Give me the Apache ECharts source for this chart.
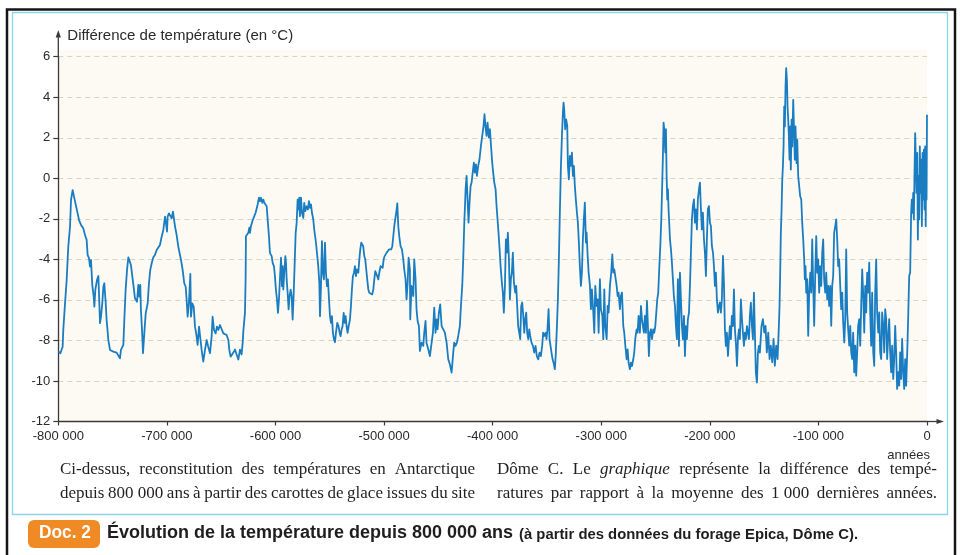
<!DOCTYPE html>
<html><head><meta charset="utf-8">
<script src="https://cdn.jsdelivr.net/npm/echarts@6/dist/echarts.min.js"></script>
<style>html,body{margin:0;padding:0;background:#fff;}#chart{width:962px;height:555px;}</style>
</head><body><div id="chart"></div>
<script>
// ---- Data: [age in ka (thousands of years, negative = before present), temperature difference °C]
const cycle800to638 = [[-800.0,-8.55],[-798.1,-8.63],[-796.9,-8.72],[-796.0,-8.31],[-795.4,-7.48],[-793.8,-6.17],[-792.3,-5.02],[-790.8,-3.37],[-789.2,-2.38],[-788.3,-1.07],[-786.8,-0.58],[-786.2,-0.49],[-785.2,-0.99],[-783.7,-1.07],[-782.2,-1.73],[-780.9,-2.06],[-779.1,-2.30],[-777.0,-2.47],[-775.4,-2.80],[-773.9,-3.04],[-773.0,-3.78],[-771.7,-3.95],[-770.8,-4.36],[-769.9,-4.03],[-768.7,-5.26],[-767.4,-5.84],[-766.8,-6.33],[-765.9,-5.51],[-764.4,-5.02],[-763.1,-4.82],[-762.2,-6.17],[-761.6,-7.15],[-760.7,-6.83],[-759.5,-6.17],[-758.5,-5.35],[-757.6,-5.18],[-757.0,-5.67],[-756.4,-6.09],[-755.5,-6.99],[-753.9,-7.98],[-752.4,-8.47],[-749.3,-8.55],[-746.3,-8.60],[-744.7,-8.55],[-743.2,-8.88],[-742.3,-8.47],[-740.1,-8.22],[-739.2,-6.99],[-738.0,-5.51],[-736.7,-4.52],[-735.5,-3.90],[-734.0,-3.87],[-733.1,-4.28],[-731.8,-4.85],[-730.3,-5.51],[-729.4,-5.92],[-727.5,-6.09],[-726.3,-5.26],[-725.4,-5.84],[-724.5,-5.26],[-723.9,-6.50],[-722.9,-7.48],[-722.0,-8.63],[-720.8,-7.65],[-719.5,-6.66],[-717.7,-6.17],[-716.5,-5.18],[-715.3,-4.52],[-714.0,-4.19],[-712.5,-3.90],[-711.0,-3.78],[-709.4,-3.54],[-707.9,-3.50],[-706.4,-3.29],[-704.8,-2.88],[-703.3,-2.55],[-701.7,-1.89],[-700.8,-2.22],[-699.9,-2.63],[-699.3,-1.89],[-698.1,-1.73],[-696.5,-1.81],[-695.6,-1.97],[-694.4,-1.64],[-693.2,-1.56],[-692.5,-2.38],[-691.0,-2.80],[-689.5,-3.37],[-687.9,-3.29],[-687.0,-4.03],[-685.5,-4.52],[-684.0,-5.18],[-682.7,-5.35],[-681.8,-6.00],[-680.9,-6.83],[-679.7,-6.17],[-678.4,-4.72],[-677.8,-6.83],[-676.6,-6.17],[-675.3,-6.33],[-674.1,-7.32],[-672.6,-7.81],[-671.7,-8.22],[-670.4,-7.32],[-669.2,-7.32],[-668.0,-8.47],[-666.5,-9.05],[-664.9,-8.47],[-663.4,-7.98],[-661.9,-8.31],[-660.3,-8.63],[-658.8,-7.81],[-657.9,-6.83],[-656.6,-7.48],[-655.1,-7.65],[-653.9,-7.32],[-652.6,-7.48],[-651.1,-7.24],[-649.6,-7.32],[-648.0,-7.65],[-646.5,-7.73],[-645.0,-7.73],[-643.4,-7.98],[-642.5,-8.47],[-641.3,-8.80],[-639.8,-8.80],[-638.2,-8.55]];
const cycle637to476 = [[-637.3,-8.45],[-635.8,-8.69],[-634.2,-8.94],[-632.7,-8.45],[-631.2,-8.69],[-630.2,-8.12],[-629.6,-7.54],[-628.7,-7.46],[-628.1,-6.64],[-627.5,-4.99],[-627.2,-2.86],[-625.9,-2.77],[-625.0,-2.69],[-624.1,-2.44],[-623.5,-2.69],[-622.6,-2.36],[-621.3,-2.12],[-620.4,-2.20],[-619.5,-1.87],[-618.3,-1.70],[-617.3,-1.79],[-616.4,-1.29],[-615.2,-0.96],[-614.3,-1.13],[-613.4,-0.96],[-612.1,-1.21],[-611.2,-1.05],[-610.3,-1.21],[-609.1,-1.13],[-608.1,-1.38],[-607.2,-2.03],[-606.0,-2.86],[-605.1,-3.68],[-603.5,-3.84],[-602.6,-4.17],[-601.4,-4.34],[-600.5,-4.83],[-599.6,-5.49],[-598.6,-5.98],[-597.7,-6.64],[-596.8,-5.98],[-595.9,-4.99],[-594.9,-3.92],[-594.0,-5.32],[-593.4,-4.34],[-592.8,-5.49],[-591.9,-4.66],[-590.9,-3.84],[-590.3,-4.17],[-589.7,-4.99],[-588.8,-5.65],[-587.9,-6.47],[-587.0,-5.82],[-586.0,-5.49],[-585.1,-5.82],[-584.2,-6.97],[-583.3,-5.82],[-582.4,-4.34],[-581.4,-2.69],[-580.5,-2.20],[-579.6,-1.05],[-578.7,-1.54],[-578.1,-0.96],[-577.5,-1.87],[-576.5,-0.96],[-575.6,-1.70],[-574.4,-1.95],[-573.5,-1.21],[-572.5,-1.62],[-571.3,-1.38],[-570.1,-1.54],[-569.2,-1.13],[-568.2,-1.46],[-567.3,-1.29],[-566.4,-1.70],[-565.2,-2.03],[-564.3,-2.53],[-562.7,-3.18],[-561.5,-3.84],[-560.6,-4.34],[-559.6,-5.16],[-559.0,-6.80],[-558.1,-5.32],[-557.2,-3.10],[-556.3,-4.66],[-555.4,-4.99],[-554.4,-3.18],[-553.5,-4.66],[-552.6,-5.32],[-551.7,-4.99],[-550.7,-5.98],[-549.8,-6.80],[-548.9,-7.13],[-548.0,-6.80],[-547.1,-7.63],[-546.1,-7.95],[-545.2,-8.09],[-544.3,-7.63],[-543.1,-7.13],[-541.9,-7.30],[-540.9,-7.63],[-540.0,-7.79],[-539.1,-7.46],[-538.2,-7.30],[-537.2,-6.64],[-536.3,-7.13],[-535.4,-6.80],[-534.5,-7.30],[-533.6,-7.63],[-532.6,-7.30],[-531.4,-6.97],[-530.5,-6.31],[-529.6,-5.49],[-528.7,-4.83],[-527.7,-4.66],[-526.8,-4.34],[-525.9,-4.83],[-525.0,-4.50],[-523.7,-4.66],[-522.8,-4.01],[-521.9,-3.51],[-521.0,-3.18],[-520.1,-3.10],[-519.2,-3.35],[-518.2,-3.84],[-517.3,-4.01],[-516.4,-4.50],[-515.5,-4.99],[-514.5,-5.49],[-513.6,-5.65],[-512.4,-5.73],[-510.9,-5.73],[-509.9,-5.49],[-509.0,-4.99],[-508.1,-4.58],[-507.2,-4.50],[-506.3,-4.83],[-505.3,-4.99],[-504.4,-4.66],[-503.2,-4.34],[-502.3,-4.25],[-501.3,-4.42],[-500.4,-4.01],[-499.5,-3.84],[-498.6,-3.76],[-497.7,-3.68],[-496.7,-3.60],[-495.5,-3.51],[-494.6,-3.43],[-493.4,-3.51],[-492.4,-3.35],[-491.5,-2.86],[-490.6,-2.36],[-489.7,-2.03],[-488.8,-1.70],[-487.8,-1.24],[-486.9,-2.36],[-486.0,-2.86],[-484.8,-3.35],[-483.5,-3.51],[-482.3,-4.01],[-481.4,-4.50],[-480.2,-4.99],[-479.3,-5.98],[-478.3,-5.16],[-477.4,-3.92],[-476.2,-4.50]];
const cycle476to315 = [[-475.9,-6.96],[-474.7,-5.31],[-473.1,-5.81],[-472.2,-4.00],[-471.0,-4.98],[-470.1,-6.46],[-469.1,-7.04],[-467.9,-7.29],[-467.0,-8.52],[-465.5,-8.11],[-463.9,-8.27],[-463.0,-7.62],[-461.8,-7.04],[-460.9,-8.11],[-459.3,-8.44],[-457.8,-8.77],[-456.2,-8.85],[-455.0,-7.62],[-453.8,-6.38],[-452.6,-7.62],[-451.6,-6.96],[-450.7,-7.45],[-449.5,-6.63],[-448.3,-6.22],[-447.0,-7.29],[-445.5,-7.45],[-444.0,-7.62],[-442.4,-8.11],[-440.9,-8.93],[-439.4,-9.18],[-437.8,-9.59],[-436.3,-8.60],[-435.4,-8.11],[-434.2,-8.27],[-432.9,-8.11],[-431.7,-7.78],[-430.2,-7.29],[-429.2,-6.30],[-428.0,-5.31],[-427.1,-4.00],[-426.2,-2.35],[-424.9,-0.54],[-424.0,0.12],[-423.1,-1.04],[-422.2,-2.19],[-421.3,-1.20],[-420.3,-0.38],[-419.4,-0.21],[-418.2,0.36],[-417.3,0.77],[-416.4,0.28],[-415.4,0.69],[-414.5,0.12],[-413.3,0.61],[-412.1,0.94],[-410.8,1.60],[-409.6,2.09],[-408.4,2.58],[-407.5,3.16],[-406.5,2.50],[-405.6,2.09],[-404.7,2.75],[-403.5,2.01],[-402.5,2.42],[-401.6,1.68],[-400.4,0.77],[-399.5,0.28],[-398.5,-0.21],[-397.3,-0.54],[-396.4,-1.37],[-395.5,-2.02],[-394.6,-2.68],[-393.6,-3.50],[-392.7,-4.33],[-391.5,-5.15],[-390.6,-5.64],[-389.7,-6.63],[-388.7,-5.31],[-387.8,-3.01],[-386.9,-3.67],[-386.0,-2.68],[-385.0,-4.00],[-384.1,-5.97],[-383.2,-4.98],[-382.3,-4.65],[-381.4,-3.67],[-380.4,-5.15],[-379.2,-5.64],[-378.3,-5.31],[-377.4,-6.30],[-376.5,-7.29],[-375.5,-7.62],[-374.6,-7.94],[-373.7,-6.30],[-372.8,-6.13],[-371.8,-6.79],[-370.9,-7.62],[-370.0,-6.96],[-369.1,-6.63],[-368.2,-7.62],[-367.2,-7.94],[-366.3,-7.45],[-365.4,-7.78],[-364.2,-8.11],[-362.9,-8.27],[-361.7,-8.60],[-360.5,-8.27],[-359.3,-8.77],[-358.0,-8.93],[-356.8,-8.60],[-355.6,-8.77],[-354.4,-8.27],[-353.5,-7.62],[-352.5,-7.78],[-351.3,-7.62],[-350.4,-7.94],[-349.5,-7.45],[-348.5,-6.46],[-347.6,-7.94],[-346.7,-8.27],[-345.8,-8.60],[-344.8,-8.93],[-343.9,-9.10],[-342.7,-9.42],[-341.8,-8.60],[-340.8,-7.29],[-339.9,-5.97],[-339.0,-4.00],[-338.1,-1.69],[-337.2,0.44],[-336.2,2.09],[-335.3,3.24],[-334.7,3.73],[-334.1,3.40],[-333.2,2.42],[-332.3,2.91],[-331.3,2.58],[-330.7,0.61],[-329.8,-0.05],[-328.9,1.10],[-328.0,0.61],[-327.0,1.27],[-326.1,0.12],[-325.2,0.61],[-324.3,-0.38],[-323.4,-1.04],[-322.4,-1.69],[-321.5,-2.19],[-320.6,-3.17],[-319.7,-4.33],[-318.7,-5.31],[-317.8,-4.65],[-316.9,-3.01],[-316.0,-2.02],[-315.1,-1.20]];
const cycle314to154 = [[-314.1,-3.17],[-313.5,-2.68],[-312.5,-3.83],[-311.6,-4.65],[-310.4,-5.31],[-309.5,-6.46],[-308.6,-5.48],[-307.3,-6.63],[-306.4,-7.62],[-305.5,-5.31],[-304.3,-6.30],[-303.3,-5.97],[-302.4,-7.62],[-301.2,-4.98],[-300.3,-6.46],[-299.0,-6.79],[-298.1,-7.94],[-297.2,-5.48],[-296.3,-7.29],[-295.0,-7.94],[-294.1,-6.30],[-293.2,-6.63],[-292.0,-5.31],[-290.8,-4.65],[-289.8,-3.75],[-288.9,-4.65],[-288.0,-4.49],[-287.1,-4.82],[-285.8,-5.31],[-284.9,-5.81],[-284.0,-5.64],[-282.8,-6.46],[-281.9,-5.81],[-280.9,-5.64],[-279.7,-7.29],[-278.8,-7.62],[-277.8,-8.27],[-276.6,-8.93],[-275.7,-8.44],[-274.8,-9.10],[-273.6,-9.42],[-272.6,-9.10],[-271.7,-9.26],[-270.5,-8.93],[-269.6,-8.60],[-268.7,-7.94],[-267.4,-7.45],[-266.5,-7.62],[-265.6,-6.79],[-264.4,-7.62],[-263.4,-6.30],[-262.5,-6.96],[-261.6,-7.29],[-260.7,-7.62],[-259.8,-6.79],[-258.8,-7.62],[-257.9,-6.05],[-257.0,-7.29],[-256.1,-8.77],[-255.2,-7.62],[-254.2,-7.45],[-253.3,-7.94],[-252.1,-7.45],[-251.2,-7.62],[-250.2,-7.29],[-249.3,-6.63],[-248.4,-5.97],[-247.5,-5.64],[-246.6,-4.49],[-245.6,-3.34],[-244.7,-2.02],[-243.8,-0.21],[-243.2,1.10],[-242.6,2.75],[-242.0,2.42],[-241.0,1.27],[-240.4,2.42],[-239.8,0.12],[-239.2,-1.04],[-238.6,-0.54],[-238.0,-1.53],[-237.4,-2.19],[-236.7,-3.01],[-235.8,-3.50],[-234.9,-4.16],[-234.0,-4.98],[-233.1,-5.81],[-232.1,-6.30],[-231.2,-7.29],[-230.3,-7.94],[-229.4,-4.98],[-228.4,-8.27],[-227.5,-4.65],[-226.6,-5.97],[-225.7,-7.29],[-224.8,-7.94],[-223.8,-6.79],[-222.9,-8.77],[-222.0,-7.29],[-221.1,-7.94],[-220.2,-6.96],[-219.2,-6.63],[-218.3,-5.31],[-217.4,-3.67],[-216.5,-2.02],[-215.6,-1.37],[-214.6,-1.04],[-213.7,-2.19],[-212.8,-1.53],[-211.9,-2.52],[-211.0,-1.04],[-210.0,-0.54],[-209.1,-0.21],[-208.2,-1.53],[-207.3,-2.52],[-206.4,-1.69],[-205.4,-3.01],[-204.5,-3.67],[-203.6,-4.82],[-202.7,-3.01],[-201.8,-1.53],[-200.8,-1.37],[-199.9,-2.19],[-199.0,-2.35],[-198.1,-3.34],[-197.1,-3.67],[-196.2,-4.33],[-195.3,-5.31],[-194.4,-4.65],[-193.5,-5.97],[-192.5,-6.63],[-191.6,-6.30],[-190.7,-6.13],[-189.8,-6.63],[-188.9,-5.97],[-187.9,-3.83],[-187.0,-5.15],[-186.1,-7.45],[-185.2,-8.27],[-184.3,-7.62],[-183.3,-8.77],[-182.4,-7.94],[-181.5,-7.29],[-180.6,-7.94],[-179.7,-6.79],[-178.7,-7.29],[-177.8,-5.48],[-176.9,-7.45],[-176.0,-8.11],[-175.0,-9.26],[-174.1,-7.94],[-173.2,-7.45],[-172.3,-7.94],[-171.4,-5.97],[-170.4,-6.96],[-169.5,-7.62],[-168.6,-8.27],[-167.7,-7.62],[-166.8,-7.94],[-165.8,-7.29],[-164.9,-7.62],[-164.0,-7.94],[-163.1,-6.79],[-162.2,-6.13],[-161.2,-7.29],[-160.3,-7.94],[-159.4,-5.64],[-158.5,-7.62],[-157.6,-9.59],[-156.6,-10.08],[-155.7,-8.60],[-154.8,-8.27],[-153.9,-8.60]];
const cycle152to0 = [[-152.4,-7.28],[-151.1,-6.95],[-149.9,-7.61],[-148.7,-7.28],[-147.5,-8.59],[-146.2,-7.61],[-145.0,-8.92],[-143.8,-8.26],[-142.5,-9.08],[-141.3,-7.93],[-140.1,-9.25],[-138.9,-8.26],[-137.6,-8.92],[-136.4,-7.28],[-135.8,-6.30],[-135.2,-4.66],[-134.6,-2.69],[-134.0,-1.70],[-133.3,-0.07],[-132.7,0.59],[-132.1,1.57],[-131.5,3.54],[-130.9,2.56],[-130.3,4.52],[-129.7,5.44],[-129.0,4.85],[-128.4,3.54],[-127.8,2.89],[-127.2,2.07],[-126.6,0.92],[-126.0,2.56],[-125.4,0.43],[-124.7,2.89],[-124.1,1.57],[-123.2,3.87],[-122.3,2.07],[-121.7,0.92],[-121.1,2.56],[-120.1,0.75],[-119.5,1.90],[-118.6,0.10],[-117.7,-0.39],[-116.8,-0.89],[-115.8,-1.05],[-114.9,-2.20],[-114.0,-3.02],[-113.1,-4.00],[-112.5,-4.98],[-111.9,-4.33],[-111.2,-5.64],[-110.3,-4.98],[-109.4,-7.77],[-108.5,-5.64],[-107.5,-4.66],[-106.6,-5.64],[-105.7,-3.02],[-104.8,-5.31],[-103.9,-7.28],[-102.9,-4.66],[-102.0,-2.85],[-101.1,-4.66],[-100.2,-4.00],[-99.3,-5.64],[-98.3,-4.33],[-97.4,-5.31],[-96.5,-3.67],[-95.6,-3.02],[-94.7,-4.98],[-93.7,-5.64],[-92.8,-4.66],[-91.9,-5.97],[-91.0,-5.31],[-90.1,-6.30],[-89.1,-5.31],[-88.2,-7.28],[-87.3,-5.31],[-86.4,-4.82],[-85.5,-2.69],[-84.5,-2.36],[-83.6,-2.03],[-82.7,-3.02],[-81.8,-4.33],[-80.9,-4.00],[-79.9,-5.31],[-79.0,-6.46],[-78.1,-5.64],[-77.2,-7.11],[-76.2,-8.10],[-75.3,-6.95],[-74.4,-3.51],[-73.5,-6.62],[-72.6,-7.44],[-71.6,-8.26],[-70.7,-7.28],[-69.8,-8.59],[-68.9,-8.92],[-68.0,-7.61],[-67.0,-9.57],[-66.1,-8.26],[-65.2,-9.74],[-64.3,-8.59],[-63.4,-7.28],[-62.4,-6.95],[-61.5,-8.26],[-60.6,-6.30],[-59.7,-4.49],[-58.8,-5.64],[-57.8,-7.61],[-56.9,-5.31],[-56.0,-6.62],[-55.1,-4.66],[-54.2,-5.64],[-53.2,-4.16],[-52.3,-6.62],[-51.4,-8.26],[-50.5,-5.64],[-49.5,-8.59],[-48.6,-9.25],[-47.7,-5.64],[-46.8,-4.00],[-45.9,-6.62],[-44.9,-7.61],[-44.0,-6.62],[-43.1,-8.59],[-42.2,-8.92],[-41.3,-6.62],[-40.3,-7.28],[-39.4,-8.59],[-38.5,-6.46],[-37.6,-6.95],[-36.7,-8.92],[-35.7,-7.77],[-34.8,-6.95],[-33.9,-8.59],[-33.0,-9.57],[-32.1,-8.26],[-31.1,-9.90],[-30.2,-8.92],[-29.3,-7.28],[-28.4,-8.59],[-27.5,-10.39],[-26.5,-9.57],[-25.6,-10.23],[-24.7,-8.59],[-23.8,-9.90],[-22.9,-7.93],[-21.9,-9.57],[-21.0,-10.39],[-20.1,-8.92],[-19.2,-10.23],[-18.2,-8.59],[-17.3,-6.79],[-16.4,-4.82],[-15.5,-4.66],[-14.6,-1.70],[-14.0,-1.05],[-13.3,-1.70],[-12.7,-0.72],[-12.1,-2.03],[-11.5,0.26],[-10.9,2.23],[-10.3,0.92],[-9.7,-0.72],[-9.0,1.25],[-8.4,-3.02],[-7.8,0.10],[-7.2,-2.03],[-6.6,1.57],[-6.0,-0.72],[-5.4,0.92],[-4.7,-2.36],[-4.1,1.25],[-3.5,-1.05],[-2.9,1.41],[-2.3,-1.54],[-1.7,1.57],[-1.2,-2.36],[-0.8,1.25],[-0.4,-1.05],[0.0,3.13]];

// ---- Ticks and labels
const xTicks = [-800000,-700000,-600000,-500000,-400000,-300000,-200000,-100000,0];
const xTickLabels = ['-800 000','-700 000','-600 000','-500 000','-400 000','-300 000','-200 000','-100 000','0'];
const yTicks = [-12,-10,-8,-6,-4,-2,0,2,4,6];
const yTickLabels = ['-12','-10','-8','-6','-4','-2','0','2','4','6'];

// ---- Texts
const yAxisTitle = 'Différence de température (en °C)';
const xAxisTitle = 'années';
const captionLeft = ['Ci-dessus, reconstitution des températures en Antarctique',
                     'depuis 800\u00a0000 ans à partir des carottes de glace issues du site'];
const captionRight = ['Dôme C. Le *graphique représente la différence des tempé-',
                      'ratures par rapport à la moyenne des 1\u00a0000 dernières années.'];
const docLabel = 'Doc. 2';
const docTitle = 'Évolution de la température depuis 800 000 ans';
const docSource = '(à partir des données du forage Epica, Dôme C).';

const seriesData = [].concat(cycle800to638, cycle637to476, cycle476to315, cycle314to154, cycle152to0)
  .map(p => [Math.round(p[0] * 1000), p[1]]);

// ---- layout helpers
const G = { left: 58.3, right: 35, top: 56.7, bottom: 133.5 };
const W = 962, H = 555;
const gx1 = W - G.right, gy1 = H - G.bottom;
const axisColor = '#3a3a3a';
const ctx = document.createElement('canvas').getContext('2d');
function measure(font, t) { ctx.font = font; return ctx.measureText(t).width; }

const serif = '"Liberation Serif", "DejaVu Serif", serif';
const sans = '"Liberation Sans", Arial, sans-serif';
const capSize = 17;

function justify(line, x0, x1, yMid) {
  const words = line.split(' ');
  const fonts = words.map(w => (w.startsWith('*') ? 'italic ' : 'normal ') + capSize + 'px ' + serif);
  const texts = words.map(w => w.replace(/^\*/, ''));
  const widths = texts.map((t, i) => measure(fonts[i], t));
  const total = widths.reduce((a, b) => a + b, 0);
  const gap = (x1 - x0 - total) / (texts.length - 1);
  const out = [];
  let x = x0;
  texts.forEach((t, i) => {
    out.push({ type: 'text', x: x, y: yMid, silent: true,
      style: { text: t, font: fonts[i], fill: '#231f20', textAlign: 'left', textVerticalAlign: 'middle' } });
    x += widths[i] + gap;
  });
  return out;
}
function fitText(text, font, x0, x1, yMid, fill) {
  const w = measure(font, text);
  return { type: 'text', x: x0, y: yMid, scaleX: (x1 - x0) / w, silent: true,
    style: { text: text, font: font, fill: fill, textAlign: 'left', textVerticalAlign: 'middle' } };
}

const capY1 = 470, capY2 = 494;
const graphics = [
  { type: 'rect', silent: true, shape: { x: 7, y: 9.5, width: 948, height: 600 },
    style: { fill: 'none', stroke: '#151515', lineWidth: 2.5 } },
  { type: 'rect', silent: true, shape: { x: 12.5, y: 12.5, width: 935, height: 502 },
    style: { fill: 'none', stroke: '#8fd3ea', lineWidth: 1.3 } },
  { type: 'rect', silent: true, shape: { x: G.left, y: 50, width: gx1 - G.left, height: G.top - 50 },
    style: { fill: '#fcfaf2' } },
  { type: 'line', silent: true, shape: { x1: G.left, y1: G.top, x2: G.left, y2: 35 },
    style: { stroke: axisColor, lineWidth: 1.3 } },
  { type: 'polygon', silent: true, shape: { points: [[G.left, 30], [G.left - 2.6, 37.5], [G.left + 2.6, 37.5]] },
    style: { fill: axisColor } },
  { type: 'line', silent: true, shape: { x1: gx1, y1: gy1, x2: 938, y2: gy1 },
    style: { stroke: axisColor, lineWidth: 1.3 } },
  { type: 'polygon', silent: true, shape: { points: [[944, gy1], [936.5, gy1 - 2.6], [936.5, gy1 + 2.6]] },
    style: { fill: axisColor } },
  { type: 'rect', silent: true, shape: { x: 28, y: 520, width: 72, height: 28, r: 6 },
    style: { fill: '#f08a24' } },
  fitText(docLabel, 'bold 18px ' + sans, 39, 91, 533.5, '#ffffff'),
  fitText(docTitle, 'bold 18px ' + sans, 107, 513, 533.5, '#1e1e1e'),
  fitText(docSource, 'bold 14px ' + sans, 519, 858, 535, '#1e1e1e')
].concat(
  justify(captionLeft[0], 60, 475, capY1),
  justify(captionLeft[1], 60, 475, capY2),
  justify(captionRight[0], 497, 937, capY1),
  justify(captionRight[1], 497, 937, capY2)
);

const chart = echarts.init(document.getElementById('chart'), null, { renderer: 'canvas' });
chart.setOption({
  animation: false,
  backgroundColor: '#ffffff',
  grid: { left: G.left, right: G.right, top: G.top, bottom: G.bottom, show: true,
          backgroundColor: '#fcfaf2', borderWidth: 0, containLabel: false, outerBoundsMode: 'none' },
  xAxis: {
    type: 'value', min: -800000, max: 0, interval: 100000,
    axisLine: { show: true, onZero: false, lineStyle: { color: axisColor, width: 1.3 } },
    axisTick: { show: true, length: 4, lineStyle: { color: axisColor, width: 1.2 } },
    splitLine: { show: false },
    axisLabel: { margin: 8, fontSize: 13, color: '#2a2a2a', fontFamily: sans,
      formatter: v => { const i = xTicks.indexOf(v); return i >= 0 ? xTickLabels[i] : ''; } },
    name: xAxisTitle, nameLocation: 'end', nameGap: 3,
    nameTextStyle: { fontSize: 13, color: '#2a2a2a', fontFamily: sans,
      align: 'right', verticalAlign: 'top', padding: [27, 0, 0, 0] }
  },
  yAxis: {
    type: 'value', min: -12, max: 6, interval: 2,
    axisLine: { show: true, onZero: false, lineStyle: { color: axisColor, width: 1.3 } },
    axisTick: { show: true, length: 5, lineStyle: { color: axisColor, width: 1.2 } },
    splitLine: { show: true, lineStyle: { color: '#d9d4c0', width: 1.2, type: [5, 4] } },
    axisLabel: { margin: 8, fontSize: 13, color: '#2a2a2a', fontFamily: sans,
      formatter: v => { const i = yTicks.indexOf(v); return i >= 0 ? yTickLabels[i] : ''; } },
    name: yAxisTitle, nameLocation: 'end', nameGap: 20.5,
    nameTextStyle: { fontSize: 15, color: '#2a2a2a', fontFamily: sans,
      align: 'left', verticalAlign: 'middle', padding: [0, 0, 0, 9] }
  },
  series: [{
    type: 'line', data: seriesData, showSymbol: false, symbol: 'none', silent: true,
    lineStyle: { color: '#1a7dc2', width: 1.8, join: 'round' }
  }],
  graphic: { elements: graphics }
});
</script></body></html>
